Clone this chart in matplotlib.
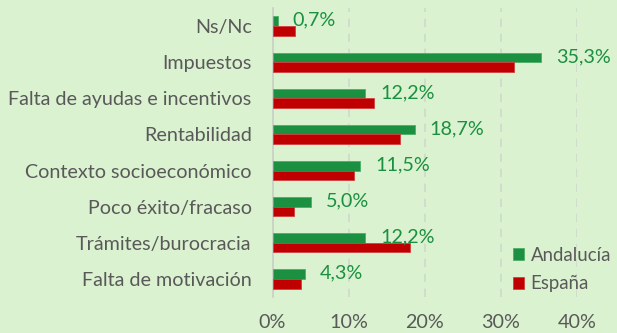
import matplotlib
matplotlib.use("Agg")
import matplotlib.pyplot as plt
import numpy as np

plt.rcParams['font.family'] = ['Lato', 'DejaVu Sans']

categories = ["Ns/Nc", "Impuestos", "Falta de ayudas e incentivos", "Rentabilidad",
              "Contexto socioeconómico", "Poco éxito/fracaso", "Trámites/burocracia",
              "Falta de motivación"]
andalucia = [0.7, 35.3, 12.2, 18.7, 11.5, 5.0, 12.2, 4.3]
espana = [3.0, 31.8, 13.4, 16.8, 10.7, 2.8, 18.1, 3.7]
xticks = [0, 10, 20, 30, 40]

bg = "#daf2d0"
green = "#1b9040"
red = "#c00000"
grey_text = "#595959"
fs = 14.2

fig = plt.figure(figsize=(6.17, 3.33), dpi=100, facecolor=bg)
ax = fig.add_axes([0.4417, 0.108, 0.4930, 0.868], facecolor=bg)

y = np.arange(len(categories))
h = 0.265
ax.barh(y - h / 2, andalucia, height=h, color=green, edgecolor="#4caf68", linewidth=0.6,
        label="Andalucía", zorder=3)
ax.barh(y + h / 2, espana, height=h, color=red, edgecolor="#d04040", linewidth=0.6,
        label="España", zorder=3)

# value labels for Andalucía only
for yi, v in zip(y, andalucia):
    ax.annotate(f"{v:.1f}%".replace(".", ","), xy=(v, yi - h / 2), xytext=(15, 1),
                textcoords="offset pixels", ha="left", va="center",
                color=green, fontsize=fs, zorder=4)

ax.set_xlim(0, 40)
ax.set_ylim(len(categories) - 0.5, -0.5)
ax.set_xticks(xticks)
ax.set_xticklabels([f"{t}%" for t in xticks])
ax.set_yticks(y)
ax.set_yticklabels(categories)
ax.tick_params(axis="both", length=0, labelsize=fs, colors=grey_text)
ax.tick_params(axis="x", pad=12)
ax.tick_params(axis="y", pad=15)

ax.grid(axis="x", linestyle=(0, (5, 4)), color="#cfd8cc", linewidth=1.2, zorder=0)
for side in ["top", "right", "bottom"]:
    ax.spines[side].set_visible(False)
ax.spines["left"].set_color("#c8d0c4")
ax.spines["left"].set_linewidth(1.2)

leg = ax.legend(loc="lower left", bbox_to_anchor=(0.765, -0.01), frameon=False,
                fontsize=13.4, handlelength=0.62, handleheight=0.62,
                handletextpad=0.35, labelspacing=0.62, borderaxespad=0.0)
for t in leg.get_texts():
    t.set_color(grey_text)

fig.savefig("out.png", dpi=100, facecolor=bg)
